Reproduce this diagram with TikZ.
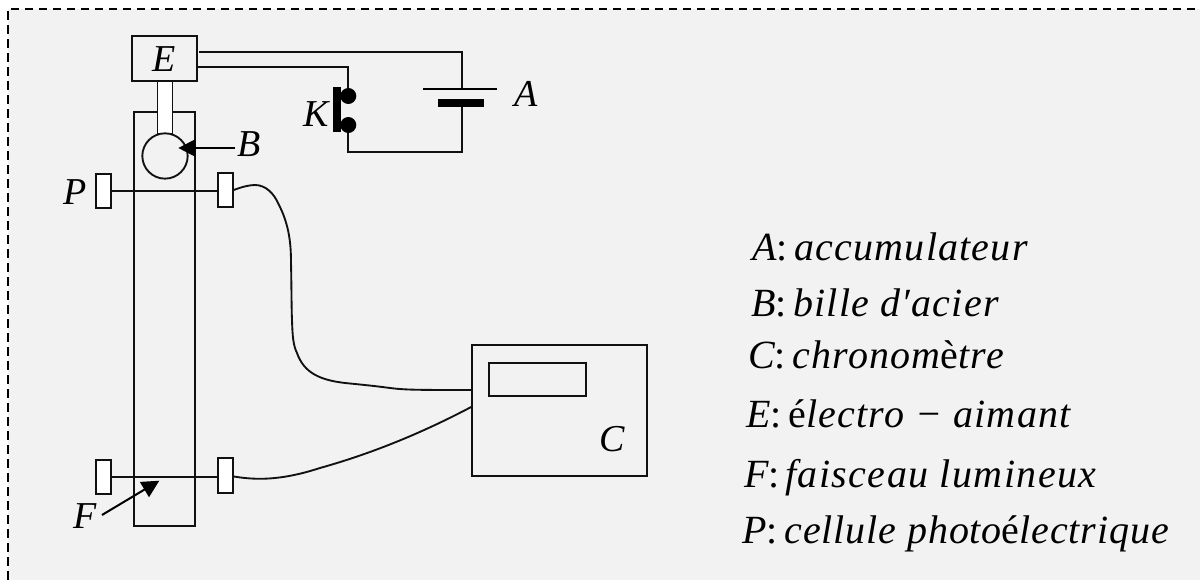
\documentclass[tikz,border=0pt]{standalone}
\usepackage{fontspec}
\setmainfont{Liberation Serif}
\usetikzlibrary{arrows.meta}
\definecolor{bgpanel}{HTML}{F2F2F2}
\definecolor{inkc}{HTML}{111111}
\tikzset{
  wire/.style={draw=inkc,line width=1.4pt},
  whitebox/.style={draw=inkc,line width=1.4pt,fill=white},
  plainbox/.style={draw=inkc,line width=1.5pt},
  cell/.style={draw=inkc,line width=1.4pt,fill=white,minimum width=11pt,minimum height=26pt,inner sep=0pt},
  dot/.style={circle,fill=black,inner sep=0pt,minimum size=12pt},
  lab/.style={inner sep=0pt,anchor=base,font=\fontsize{28.5}{28.5}\selectfont\itshape,text=black},
  leg/.style={inner sep=0pt,anchor=base west,font=\fontsize{30}{30}\selectfont\addfontfeatures{LetterSpace=3}\itshape,text=black},
  pointer/.style={draw=black,line width=1.5pt,-{Triangle[length=13pt,width=13pt]}}
}
\begin{document}
\begin{tikzpicture}[x=0.75pt,y=-0.75pt]
\useasboundingbox (0,0) rectangle (1200,580);
\fill[white] (0,0) rectangle (1200,580);
\fill[bgpanel] (7.5,9) rectangle (1200,580);
\draw[black,line width=1.5pt,dash pattern=on 6.5pt off 4pt] (7.5,580) -- (7.5,9.3) -- (1200,9.3);
% tube
\coordinate (tl) at (134,112);
\coordinate (br) at (195,526.5);
\draw[plainbox] (tl) rectangle (br);
% beams
\node (p1) [cell] at (103.5,191) {};
\node (p2) [cell] at (225.5,190) {};
\node (f1) [cell] at (103.5,477) {};
\node (f2) [cell] at (225.5,475.5) {};
\draw[wire] (p1.east |- 0,190.7) -- (p2.west |- 0,190.7);
\draw[wire] (f1.east |- 0,476.7) -- (f2.west |- 0,476.7);
% rod and ball
\draw[whitebox] (157.5,80) rectangle (172.5,134);
\node (ball) [circle,draw=inkc,line width=1.4pt,fill=bgpanel,minimum size=34pt,inner sep=0pt] at (165,156) {};
% E
\node (E) [draw=inkc,line width=1.5pt,fill=bgpanel,minimum width=49pt,minimum height=34pt,inner sep=0pt] at (164.5,58.5) {};
\node (Et) [lab] at (164.5,72) {E};
% circuit
\draw[wire] (199.3,52) -- (462.3,52) -- (462.3,89);
\draw[wire] (E.east |- 0,66.8) -- (348.3,66.8) -- (348.3,97);
\draw[wire] (348.3,125) -- (348.3,152) -- (462.3,152) -- (462.3,102);
\draw[black,line width=1.7pt] (423,89.3) -- (497,89.3);
\fill[black] (438,99) rectangle (484,107);
\node (k1) [dot] at (348.3,96) {};
\node (k2) [dot] at (348.3,125) {};
\fill[black] (333,87) rectangle (341,132);
% C
\node (C) [draw=inkc,line width=1.5pt,minimum width=131pt,minimum height=98pt,inner sep=0pt] at (559.5,410.5) {};
\draw[plainbox] (489,363.5) rectangle (586,396.5);
% cables
\draw[wire] (p2.east |- 0,190) .. controls (243,186.5) and (250,185) .. (255,185)
  .. controls (266,185) and (274,194) .. (278,203)
  .. controls (288,222) and (291,240) .. (291,262)
  .. controls (291.5,285) and (291.5,310) .. (292,320)
  .. controls (292.5,335) and (293,345) .. (297,353)
  .. controls (304,373) and (320,380) .. (345,383)
  .. controls (365,385) and (375,386) .. (390,388)
  .. controls (405,390) and (420,390) .. (C.west |- 0,390);
\draw[wire] (f2.east |- 0,476.5) .. controls (255,480) and (280,481) .. (320,468)
  .. controls (370,454) and (420,434) .. (C.west |- 0,407);
% pointers
\coordinate (bs) at (235,148);
\coordinate (be) at (178.3,148);
\draw[pointer] (bs) -- (be);
\coordinate (fs) at (102,515);
\coordinate (fe) at (159.3,480.7);
\draw[pointer] (fs) -- (fe);
% labels
\node [lab] at (249.5,157) {B};
\node [lab] at (75,205) {P};
\node [lab] at (316,127) {K};
\node [lab] at (526.5,107) {A};
\node [lab] at (612,452) {C};
\node [lab] at (85,529) {F};
% legend
\node [leg] at (752,261) {A\upshape:\hspace{5pt}\itshape accumulateur};
\node [leg] at (751,317) {B\upshape:\hspace{5pt}\itshape bille d′acier};
\node [leg] at (748,369) {C\upshape:\hspace{5pt}\itshape chronom\upshape è\itshape tre};
\node [leg] at (746,428) {E\upshape:\hspace{5pt}é\itshape lectro − aimant};
\node [leg,font=\fontsize{30}{30}\selectfont\addfontfeatures{LetterSpace=3.6}\itshape] at (744,488) {F\upshape:\hspace{4pt}\itshape faisceau lumineux};
\node [leg,font=\fontsize{30}{30}\selectfont\addfontfeatures{LetterSpace=2.2}\itshape] at (742,544) {P\upshape:\hspace{5pt}\itshape cellule photo\upshape é\itshape lectrique};
\end{tikzpicture}
\end{document}
